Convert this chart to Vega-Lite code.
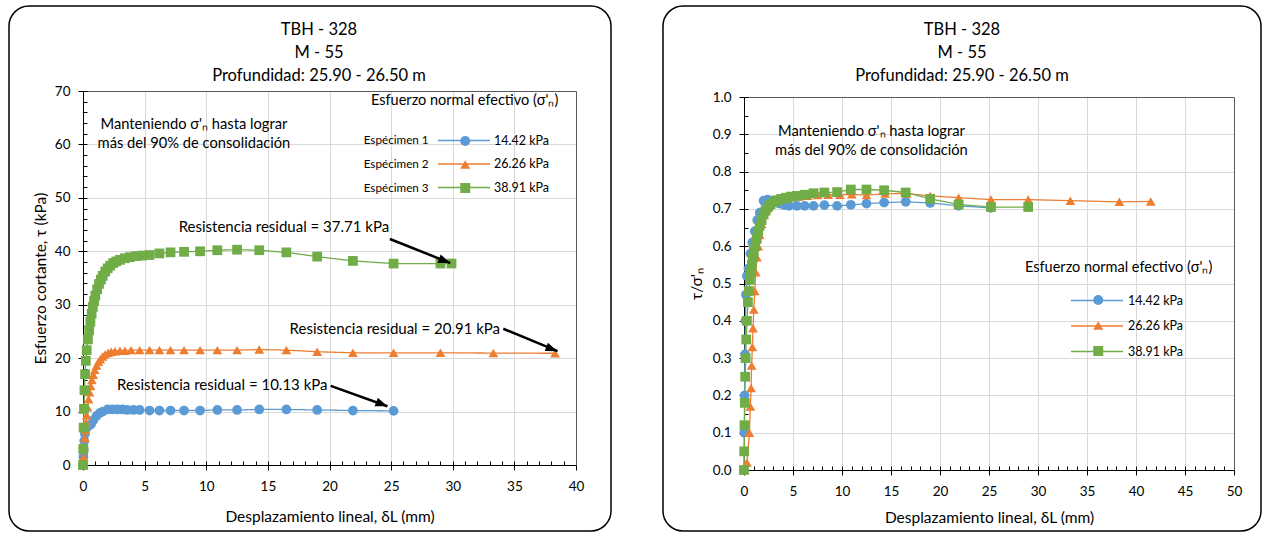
{
  "$schema": "https://vega.github.io/schema/vega-lite/v6.json",
  "padding": {"left": 8, "top": 5, "right": 0, "bottom": 0},
  "background": "white",
  "spacing": 50,
  "config": {
    "font": "Lato",
    "view": {"stroke": "black", "strokeWidth": 1.5, "cornerRadius": 20, "fill": "white"},
    "axis": {"labelFontSize": 13.5, "labelColor": "#000", "titleFontSize": 15.5, "titleFontWeight": "normal", "titleColor": "#000", "domainColor": "#000", "tickColor": "#000", "gridColor": "#d9d9d9", "labelFlush": false, "labelOverlap": false},
    "legend": {"labelColor": "#000", "titleColor": "#000", "titleFontWeight": "normal", "titleLimit": 400, "labelLimit": 300}
  },
  "resolve": {
    "scale": {"fill": "independent", "stroke": "independent", "shape": "independent", "strokeDash": "independent"},
    "legend": {"fill": "independent", "stroke": "independent", "shape": "independent", "strokeDash": "independent"}
  },
  "datasets": {
    "left": [
      {"esp": "Espécimen 1", "sigma": "14.42 kPa", "x": 0, "tau": 0},
      {"esp": "Espécimen 1", "sigma": "14.42 kPa", "x": 0.03, "tau": 1.5},
      {"esp": "Espécimen 1", "sigma": "14.42 kPa", "x": 0.06, "tau": 3.0},
      {"esp": "Espécimen 1", "sigma": "14.42 kPa", "x": 0.1, "tau": 4.5},
      {"esp": "Espécimen 1", "sigma": "14.42 kPa", "x": 0.15, "tau": 5.8},
      {"esp": "Espécimen 1", "sigma": "14.42 kPa", "x": 0.2, "tau": 6.6},
      {"esp": "Espécimen 1", "sigma": "14.42 kPa", "x": 0.3, "tau": 7.1},
      {"esp": "Espécimen 1", "sigma": "14.42 kPa", "x": 0.45, "tau": 7.3},
      {"esp": "Espécimen 1", "sigma": "14.42 kPa", "x": 0.65, "tau": 7.6},
      {"esp": "Espécimen 1", "sigma": "14.42 kPa", "x": 0.85, "tau": 8.4},
      {"esp": "Espécimen 1", "sigma": "14.42 kPa", "x": 1.1, "tau": 9.2},
      {"esp": "Espécimen 1", "sigma": "14.42 kPa", "x": 1.35, "tau": 9.7},
      {"esp": "Espécimen 1", "sigma": "14.42 kPa", "x": 1.6, "tau": 10.0},
      {"esp": "Espécimen 1", "sigma": "14.42 kPa", "x": 2.0, "tau": 10.4},
      {"esp": "Espécimen 1", "sigma": "14.42 kPa", "x": 2.4, "tau": 10.4},
      {"esp": "Espécimen 1", "sigma": "14.42 kPa", "x": 2.8, "tau": 10.4},
      {"esp": "Espécimen 1", "sigma": "14.42 kPa", "x": 3.2, "tau": 10.4},
      {"esp": "Espécimen 1", "sigma": "14.42 kPa", "x": 3.6, "tau": 10.3},
      {"esp": "Espécimen 1", "sigma": "14.42 kPa", "x": 4.1, "tau": 10.3},
      {"esp": "Espécimen 1", "sigma": "14.42 kPa", "x": 4.6, "tau": 10.3},
      {"esp": "Espécimen 1", "sigma": "14.42 kPa", "x": 5.4, "tau": 10.2},
      {"esp": "Espécimen 1", "sigma": "14.42 kPa", "x": 6.2, "tau": 10.2},
      {"esp": "Espécimen 1", "sigma": "14.42 kPa", "x": 7.1, "tau": 10.2},
      {"esp": "Espécimen 1", "sigma": "14.42 kPa", "x": 8.2, "tau": 10.2},
      {"esp": "Espécimen 1", "sigma": "14.42 kPa", "x": 9.5, "tau": 10.2},
      {"esp": "Espécimen 1", "sigma": "14.42 kPa", "x": 10.9, "tau": 10.3},
      {"esp": "Espécimen 1", "sigma": "14.42 kPa", "x": 12.5, "tau": 10.3},
      {"esp": "Espécimen 1", "sigma": "14.42 kPa", "x": 14.3, "tau": 10.4},
      {"esp": "Espécimen 1", "sigma": "14.42 kPa", "x": 16.5, "tau": 10.4},
      {"esp": "Espécimen 1", "sigma": "14.42 kPa", "x": 19.0, "tau": 10.3},
      {"esp": "Espécimen 1", "sigma": "14.42 kPa", "x": 21.9, "tau": 10.2},
      {"esp": "Espécimen 1", "sigma": "14.42 kPa", "x": 25.2, "tau": 10.13},
      {"esp": "Espécimen 2", "sigma": "26.26 kPa", "x": 0, "tau": 0},
      {"esp": "Espécimen 2", "sigma": "26.26 kPa", "x": 0.05, "tau": 1.5},
      {"esp": "Espécimen 2", "sigma": "26.26 kPa", "x": 0.1, "tau": 3.2},
      {"esp": "Espécimen 2", "sigma": "26.26 kPa", "x": 0.15, "tau": 5.0},
      {"esp": "Espécimen 2", "sigma": "26.26 kPa", "x": 0.2, "tau": 6.5},
      {"esp": "Espécimen 2", "sigma": "26.26 kPa", "x": 0.25, "tau": 8.0},
      {"esp": "Espécimen 2", "sigma": "26.26 kPa", "x": 0.3, "tau": 9.3},
      {"esp": "Espécimen 2", "sigma": "26.26 kPa", "x": 0.37, "tau": 10.8},
      {"esp": "Espécimen 2", "sigma": "26.26 kPa", "x": 0.45, "tau": 12.3},
      {"esp": "Espécimen 2", "sigma": "26.26 kPa", "x": 0.53, "tau": 13.6},
      {"esp": "Espécimen 2", "sigma": "26.26 kPa", "x": 0.62, "tau": 14.8},
      {"esp": "Espécimen 2", "sigma": "26.26 kPa", "x": 0.72, "tau": 15.9},
      {"esp": "Espécimen 2", "sigma": "26.26 kPa", "x": 0.83, "tau": 16.9},
      {"esp": "Espécimen 2", "sigma": "26.26 kPa", "x": 0.95, "tau": 17.8},
      {"esp": "Espécimen 2", "sigma": "26.26 kPa", "x": 1.1, "tau": 18.6},
      {"esp": "Espécimen 2", "sigma": "26.26 kPa", "x": 1.25, "tau": 19.3},
      {"esp": "Espécimen 2", "sigma": "26.26 kPa", "x": 1.4, "tau": 19.8},
      {"esp": "Espécimen 2", "sigma": "26.26 kPa", "x": 1.6, "tau": 20.3},
      {"esp": "Espécimen 2", "sigma": "26.26 kPa", "x": 1.8, "tau": 20.7},
      {"esp": "Espécimen 2", "sigma": "26.26 kPa", "x": 2.05, "tau": 21.0},
      {"esp": "Espécimen 2", "sigma": "26.26 kPa", "x": 2.3, "tau": 21.2},
      {"esp": "Espécimen 2", "sigma": "26.26 kPa", "x": 2.6, "tau": 21.3},
      {"esp": "Espécimen 2", "sigma": "26.26 kPa", "x": 3.0, "tau": 21.4},
      {"esp": "Espécimen 2", "sigma": "26.26 kPa", "x": 3.4, "tau": 21.4},
      {"esp": "Espécimen 2", "sigma": "26.26 kPa", "x": 3.9, "tau": 21.5},
      {"esp": "Espécimen 2", "sigma": "26.26 kPa", "x": 4.6, "tau": 21.5},
      {"esp": "Espécimen 2", "sigma": "26.26 kPa", "x": 5.4, "tau": 21.5},
      {"esp": "Espécimen 2", "sigma": "26.26 kPa", "x": 6.2, "tau": 21.5},
      {"esp": "Espécimen 2", "sigma": "26.26 kPa", "x": 7.1, "tau": 21.5},
      {"esp": "Espécimen 2", "sigma": "26.26 kPa", "x": 8.2, "tau": 21.5},
      {"esp": "Espécimen 2", "sigma": "26.26 kPa", "x": 9.5, "tau": 21.5},
      {"esp": "Espécimen 2", "sigma": "26.26 kPa", "x": 10.9, "tau": 21.5},
      {"esp": "Espécimen 2", "sigma": "26.26 kPa", "x": 12.5, "tau": 21.5},
      {"esp": "Espécimen 2", "sigma": "26.26 kPa", "x": 14.3, "tau": 21.6},
      {"esp": "Espécimen 2", "sigma": "26.26 kPa", "x": 16.5, "tau": 21.5},
      {"esp": "Espécimen 2", "sigma": "26.26 kPa", "x": 19.0, "tau": 21.2},
      {"esp": "Espécimen 2", "sigma": "26.26 kPa", "x": 21.9, "tau": 21.0},
      {"esp": "Espécimen 2", "sigma": "26.26 kPa", "x": 25.2, "tau": 21.0},
      {"esp": "Espécimen 2", "sigma": "26.26 kPa", "x": 29.0, "tau": 21.0},
      {"esp": "Espécimen 2", "sigma": "26.26 kPa", "x": 33.3, "tau": 20.95},
      {"esp": "Espécimen 2", "sigma": "26.26 kPa", "x": 38.3, "tau": 20.91},
      {"esp": "Espécimen 3", "sigma": "38.91 kPa", "x": 0, "tau": 0},
      {"esp": "Espécimen 3", "sigma": "38.91 kPa", "x": 0.02, "tau": 3},
      {"esp": "Espécimen 3", "sigma": "38.91 kPa", "x": 0.05, "tau": 7},
      {"esp": "Espécimen 3", "sigma": "38.91 kPa", "x": 0.08, "tau": 10.5},
      {"esp": "Espécimen 3", "sigma": "38.91 kPa", "x": 0.12, "tau": 14},
      {"esp": "Espécimen 3", "sigma": "38.91 kPa", "x": 0.17, "tau": 17},
      {"esp": "Espécimen 3", "sigma": "38.91 kPa", "x": 0.23, "tau": 19.5},
      {"esp": "Espécimen 3", "sigma": "38.91 kPa", "x": 0.3, "tau": 21.5},
      {"esp": "Espécimen 3", "sigma": "38.91 kPa", "x": 0.4, "tau": 23.5},
      {"esp": "Espécimen 3", "sigma": "38.91 kPa", "x": 0.5, "tau": 25.2},
      {"esp": "Espécimen 3", "sigma": "38.91 kPa", "x": 0.6, "tau": 26.8},
      {"esp": "Espécimen 3", "sigma": "38.91 kPa", "x": 0.7, "tau": 28.3},
      {"esp": "Espécimen 3", "sigma": "38.91 kPa", "x": 0.8, "tau": 29.6},
      {"esp": "Espécimen 3", "sigma": "38.91 kPa", "x": 0.9, "tau": 30.7},
      {"esp": "Espécimen 3", "sigma": "38.91 kPa", "x": 1.0, "tau": 31.7},
      {"esp": "Espécimen 3", "sigma": "38.91 kPa", "x": 1.15, "tau": 32.9},
      {"esp": "Espécimen 3", "sigma": "38.91 kPa", "x": 1.3, "tau": 33.9},
      {"esp": "Espécimen 3", "sigma": "38.91 kPa", "x": 1.45, "tau": 34.7},
      {"esp": "Espécimen 3", "sigma": "38.91 kPa", "x": 1.6, "tau": 35.4},
      {"esp": "Espécimen 3", "sigma": "38.91 kPa", "x": 1.8, "tau": 36.2},
      {"esp": "Espécimen 3", "sigma": "38.91 kPa", "x": 2.0, "tau": 36.8},
      {"esp": "Espécimen 3", "sigma": "38.91 kPa", "x": 2.2, "tau": 37.3},
      {"esp": "Espécimen 3", "sigma": "38.91 kPa", "x": 2.45, "tau": 37.8},
      {"esp": "Espécimen 3", "sigma": "38.91 kPa", "x": 2.7, "tau": 38.1},
      {"esp": "Espécimen 3", "sigma": "38.91 kPa", "x": 3.0, "tau": 38.4},
      {"esp": "Espécimen 3", "sigma": "38.91 kPa", "x": 3.4, "tau": 38.7},
      {"esp": "Espécimen 3", "sigma": "38.91 kPa", "x": 3.8, "tau": 38.9},
      {"esp": "Espécimen 3", "sigma": "38.91 kPa", "x": 4.3, "tau": 39.1},
      {"esp": "Espécimen 3", "sigma": "38.91 kPa", "x": 4.8, "tau": 39.2},
      {"esp": "Espécimen 3", "sigma": "38.91 kPa", "x": 5.4, "tau": 39.3},
      {"esp": "Espécimen 3", "sigma": "38.91 kPa", "x": 6.2, "tau": 39.6},
      {"esp": "Espécimen 3", "sigma": "38.91 kPa", "x": 7.1, "tau": 39.8},
      {"esp": "Espécimen 3", "sigma": "38.91 kPa", "x": 8.2, "tau": 39.9},
      {"esp": "Espécimen 3", "sigma": "38.91 kPa", "x": 9.5, "tau": 40.0},
      {"esp": "Espécimen 3", "sigma": "38.91 kPa", "x": 10.9, "tau": 40.2},
      {"esp": "Espécimen 3", "sigma": "38.91 kPa", "x": 12.5, "tau": 40.3},
      {"esp": "Espécimen 3", "sigma": "38.91 kPa", "x": 14.3, "tau": 40.2},
      {"esp": "Espécimen 3", "sigma": "38.91 kPa", "x": 16.5, "tau": 39.8},
      {"esp": "Espécimen 3", "sigma": "38.91 kPa", "x": 19.0, "tau": 39.0},
      {"esp": "Espécimen 3", "sigma": "38.91 kPa", "x": 21.9, "tau": 38.2},
      {"esp": "Espécimen 3", "sigma": "38.91 kPa", "x": 25.2, "tau": 37.7},
      {"esp": "Espécimen 3", "sigma": "38.91 kPa", "x": 29.0, "tau": 37.7},
      {"esp": "Espécimen 3", "sigma": "38.91 kPa", "x": 29.9, "tau": 37.71}
    ],
    "right": [
      {"sigma": "14.42 kPa", "x": 0, "r": 0},
      {"sigma": "14.42 kPa", "x": 0.03, "r": 0.1},
      {"sigma": "14.42 kPa", "x": 0.06, "r": 0.2},
      {"sigma": "14.42 kPa", "x": 0.1, "r": 0.31},
      {"sigma": "14.42 kPa", "x": 0.15, "r": 0.4},
      {"sigma": "14.42 kPa", "x": 0.2, "r": 0.47},
      {"sigma": "14.42 kPa", "x": 0.3, "r": 0.52},
      {"sigma": "14.42 kPa", "x": 0.45, "r": 0.54},
      {"sigma": "14.42 kPa", "x": 0.65, "r": 0.58},
      {"sigma": "14.42 kPa", "x": 0.85, "r": 0.61},
      {"sigma": "14.42 kPa", "x": 1.1, "r": 0.64},
      {"sigma": "14.42 kPa", "x": 1.35, "r": 0.67},
      {"sigma": "14.42 kPa", "x": 1.6, "r": 0.69},
      {"sigma": "14.42 kPa", "x": 2.0, "r": 0.722},
      {"sigma": "14.42 kPa", "x": 2.4, "r": 0.725},
      {"sigma": "14.42 kPa", "x": 2.8, "r": 0.722},
      {"sigma": "14.42 kPa", "x": 3.2, "r": 0.718},
      {"sigma": "14.42 kPa", "x": 3.6, "r": 0.714},
      {"sigma": "14.42 kPa", "x": 4.1, "r": 0.71},
      {"sigma": "14.42 kPa", "x": 4.6, "r": 0.708},
      {"sigma": "14.42 kPa", "x": 5.4, "r": 0.708},
      {"sigma": "14.42 kPa", "x": 6.2, "r": 0.708},
      {"sigma": "14.42 kPa", "x": 7.1, "r": 0.708},
      {"sigma": "14.42 kPa", "x": 8.2, "r": 0.71},
      {"sigma": "14.42 kPa", "x": 9.5, "r": 0.708},
      {"sigma": "14.42 kPa", "x": 10.9, "r": 0.711},
      {"sigma": "14.42 kPa", "x": 12.5, "r": 0.714},
      {"sigma": "14.42 kPa", "x": 14.3, "r": 0.717},
      {"sigma": "14.42 kPa", "x": 16.5, "r": 0.719},
      {"sigma": "14.42 kPa", "x": 19.0, "r": 0.716},
      {"sigma": "14.42 kPa", "x": 21.9, "r": 0.708},
      {"sigma": "14.42 kPa", "x": 25.2, "r": 0.703},
      {"sigma": "26.26 kPa", "x": 0, "r": 0},
      {"sigma": "26.26 kPa", "x": 0.3, "r": 0.02},
      {"sigma": "26.26 kPa", "x": 0.55, "r": 0.1},
      {"sigma": "26.26 kPa", "x": 0.65, "r": 0.17},
      {"sigma": "26.26 kPa", "x": 0.72, "r": 0.22},
      {"sigma": "26.26 kPa", "x": 0.78, "r": 0.28},
      {"sigma": "26.26 kPa", "x": 0.85, "r": 0.33},
      {"sigma": "26.26 kPa", "x": 0.92, "r": 0.38},
      {"sigma": "26.26 kPa", "x": 1.0, "r": 0.43},
      {"sigma": "26.26 kPa", "x": 1.1, "r": 0.48},
      {"sigma": "26.26 kPa", "x": 1.2, "r": 0.53},
      {"sigma": "26.26 kPa", "x": 1.32, "r": 0.57},
      {"sigma": "26.26 kPa", "x": 1.45, "r": 0.6},
      {"sigma": "26.26 kPa", "x": 1.6, "r": 0.63},
      {"sigma": "26.26 kPa", "x": 1.8, "r": 0.66},
      {"sigma": "26.26 kPa", "x": 2.0, "r": 0.685},
      {"sigma": "26.26 kPa", "x": 2.3, "r": 0.7},
      {"sigma": "26.26 kPa", "x": 2.6, "r": 0.71},
      {"sigma": "26.26 kPa", "x": 3.0, "r": 0.718},
      {"sigma": "26.26 kPa", "x": 3.5, "r": 0.724},
      {"sigma": "26.26 kPa", "x": 4.1, "r": 0.728},
      {"sigma": "26.26 kPa", "x": 4.8, "r": 0.731},
      {"sigma": "26.26 kPa", "x": 5.6, "r": 0.733},
      {"sigma": "26.26 kPa", "x": 6.5, "r": 0.735},
      {"sigma": "26.26 kPa", "x": 7.5, "r": 0.737},
      {"sigma": "26.26 kPa", "x": 8.6, "r": 0.738},
      {"sigma": "26.26 kPa", "x": 9.8, "r": 0.738},
      {"sigma": "26.26 kPa", "x": 11.0, "r": 0.739},
      {"sigma": "26.26 kPa", "x": 12.5, "r": 0.737},
      {"sigma": "26.26 kPa", "x": 14.4, "r": 0.741},
      {"sigma": "26.26 kPa", "x": 16.6, "r": 0.741},
      {"sigma": "26.26 kPa", "x": 19.0, "r": 0.735},
      {"sigma": "26.26 kPa", "x": 21.9, "r": 0.73},
      {"sigma": "26.26 kPa", "x": 25.2, "r": 0.725},
      {"sigma": "26.26 kPa", "x": 29.0, "r": 0.725},
      {"sigma": "26.26 kPa", "x": 33.3, "r": 0.722},
      {"sigma": "26.26 kPa", "x": 38.3, "r": 0.719},
      {"sigma": "26.26 kPa", "x": 41.5, "r": 0.72},
      {"sigma": "38.91 kPa", "x": 0, "r": 0},
      {"sigma": "38.91 kPa", "x": 0.02, "r": 0.05},
      {"sigma": "38.91 kPa", "x": 0.05, "r": 0.12},
      {"sigma": "38.91 kPa", "x": 0.08, "r": 0.18},
      {"sigma": "38.91 kPa", "x": 0.12, "r": 0.25},
      {"sigma": "38.91 kPa", "x": 0.17, "r": 0.3},
      {"sigma": "38.91 kPa", "x": 0.23, "r": 0.35},
      {"sigma": "38.91 kPa", "x": 0.3, "r": 0.4},
      {"sigma": "38.91 kPa", "x": 0.4, "r": 0.45},
      {"sigma": "38.91 kPa", "x": 0.5, "r": 0.48},
      {"sigma": "38.91 kPa", "x": 0.6, "r": 0.51},
      {"sigma": "38.91 kPa", "x": 0.7, "r": 0.53},
      {"sigma": "38.91 kPa", "x": 0.8, "r": 0.55},
      {"sigma": "38.91 kPa", "x": 0.9, "r": 0.57},
      {"sigma": "38.91 kPa", "x": 1.0, "r": 0.585},
      {"sigma": "38.91 kPa", "x": 1.15, "r": 0.6},
      {"sigma": "38.91 kPa", "x": 1.3, "r": 0.62},
      {"sigma": "38.91 kPa", "x": 1.45, "r": 0.64},
      {"sigma": "38.91 kPa", "x": 1.6, "r": 0.655},
      {"sigma": "38.91 kPa", "x": 1.8, "r": 0.67},
      {"sigma": "38.91 kPa", "x": 2.0, "r": 0.685},
      {"sigma": "38.91 kPa", "x": 2.2, "r": 0.695},
      {"sigma": "38.91 kPa", "x": 2.45, "r": 0.705},
      {"sigma": "38.91 kPa", "x": 2.7, "r": 0.712},
      {"sigma": "38.91 kPa", "x": 3.0, "r": 0.718},
      {"sigma": "38.91 kPa", "x": 3.4, "r": 0.723},
      {"sigma": "38.91 kPa", "x": 3.8, "r": 0.727},
      {"sigma": "38.91 kPa", "x": 4.3, "r": 0.73},
      {"sigma": "38.91 kPa", "x": 4.8, "r": 0.733},
      {"sigma": "38.91 kPa", "x": 5.4, "r": 0.735},
      {"sigma": "38.91 kPa", "x": 6.2, "r": 0.738},
      {"sigma": "38.91 kPa", "x": 7.1, "r": 0.742},
      {"sigma": "38.91 kPa", "x": 8.2, "r": 0.744},
      {"sigma": "38.91 kPa", "x": 9.5, "r": 0.745},
      {"sigma": "38.91 kPa", "x": 10.9, "r": 0.752},
      {"sigma": "38.91 kPa", "x": 12.5, "r": 0.752},
      {"sigma": "38.91 kPa", "x": 14.3, "r": 0.75},
      {"sigma": "38.91 kPa", "x": 16.5, "r": 0.744},
      {"sigma": "38.91 kPa", "x": 19.0, "r": 0.727},
      {"sigma": "38.91 kPa", "x": 21.9, "r": 0.712},
      {"sigma": "38.91 kPa", "x": 25.2, "r": 0.705},
      {"sigma": "38.91 kPa", "x": 29.0, "r": 0.705}
    ],
    "leftNote": [{"x": 9.0, "y": 63.7, "text": "Manteniendo σ'ₙ hasta lograr\nmás del 90% de consolidación"}],
    "leftResid": [
      {"x": 16.3, "y": 44.5, "text": "Resistencia residual = 37.71 kPa"},
      {"x": 25.3, "y": 25.5, "text": "Resistencia residual = 20.91 kPa"},
      {"x": 11.3, "y": 15.0, "text": "Resistencia residual = 10.13 kPa"}
    ],
    "leftArrows": [
      {"x": 24.9, "y": 42.3, "x2": 29.8, "y2": 37.8},
      {"x": 34.1, "y": 25.5, "x2": 38.5, "y2": 21.3},
      {"x": 20.1, "y": 14.8, "x2": 24.7, "y2": 11.0}
    ],
    "rightNote": [{"x": 13.0, "y": 0.906, "text": "Manteniendo σ'ₙ hasta lograr\nmás del 90% de consolidación"}]
  },
  "hconcat": [
    {
      "width": 602,
      "height": 525,
      "title": {"text": ["TBH - 328", "M - 55", "Profundidad: 25.90 -  26.50 m"], "frame": "group", "anchor": "middle", "offset": -78, "dx": 9, "fontSize": 16.5, "fontWeight": "normal", "lineHeight": 23, "color": "#000"},
      "resolve": {"axis": {"x": "independent", "y": "independent"}},
      "layer": [
        {
          "data": {"name": "left"},
          "mark": {"type": "line", "strokeWidth": 1.3},
          "encoding": {
            "x": {"field": "x", "type": "quantitative", "scale": {"domain": [0, 40], "range": [74, 567], "nice": false, "zero": false},
              "axis": {"orient": "bottom", "offset": -66, "values": [0,1,2,3,4,5,6,7,8,9,10,11,12,13,14,15,16,17,18,19,20,21,22,23,24,25,26,27,28,29,30,31,32,33,34,35,36,37,38,39,40], "domain": false, "labels": false, "grid": false, "tickSize": -4, "title": null}},
            "y": {"field": "tau", "type": "quantitative", "scale": {"domain": [0, 70], "range": [459, 85], "nice": false, "zero": false},
              "axis": {"orient": "left", "offset": -74, "values": [0,2,4,6,8,10,12,14,16,18,20,22,24,26,28,30,32,34,36,38,40,42,44,46,48,50,52,54,56,58,60,62,64,66,68,70], "domain": false, "labels": false, "grid": false, "tickSize": -4, "title": null}},
            "stroke": {"field": "sigma", "type": "nominal", "scale": {"range": ["#5b9bd5", "#ed7d31", "#70ad47"]},
              "legend": {"orient": "none", "legendX": 362, "legendY": 88, "title": "Esfuerzo normal efectivo (σ'ₙ)", "titleFontSize": 14.5, "titlePadding": 24, "labelFontSize": 12.5, "symbolType": "stroke", "symbolSize": 2704, "symbolStrokeWidth": 1.3, "symbolOffset": 66, "labelOffset": 3, "rowPadding": 7.5, "clipHeight": 16}},
            "strokeDash": {"field": "esp", "type": "nominal", "scale": {"domain": ["Espécimen 1", "Espécimen 2", "Espécimen 3"], "range": [[1, 0], [1, 0], [1, 0]]},
              "legend": {"orient": "none", "legendX": 343, "legendY": 128, "title": null, "symbolOpacity": 0, "symbolSize": 0, "labelOffset": 0, "labelFontSize": 11.7, "rowPadding": 11.3}}
          }
        },
        {
          "data": {"name": "left"},
          "mark": {"type": "point", "filled": true, "size": 95, "opacity": 1},
          "encoding": {
            "x": {"field": "x", "type": "quantitative", "scale": {"domain": [0, 40], "range": [74, 567], "nice": false, "zero": false},
              "axis": {"orient": "bottom", "offset": -66, "values": [0,5,10,15,20,25,30,35,40], "grid": false, "tickSize": 5, "labelPadding": 9, "title": "Desplazamiento lineal, δL (mm)", "titlePadding": 17}},
            "y": {"field": "tau", "type": "quantitative", "scale": {"domain": [0, 70], "range": [459, 85], "nice": false, "zero": false},
              "axis": {"orient": "left", "offset": -74, "values": [0,10,20,30,40,50,60,70], "grid": true, "gridOpacity": {"condition": {"test": "datum.value === 0 || datum.value === 70", "value": 0}, "value": 1}, "tickSize": 5, "labelPadding": 8, "title": "Esfuerzo cortante, τ (kPa)", "titlePadding": 6}},
            "fill": {"field": "sigma", "type": "nominal", "scale": {"domain": ["14.42 kPa", "26.26 kPa", "38.91 kPa"], "range": ["#5b9bd5", "#ed7d31", "#70ad47"]},
              "legend": {"orient": "none", "legendX": 362, "legendY": 127, "title": null, "labelFontSize": 12.5, "labelExpr": "''", "symbolSize": 100, "symbolOffset": 88, "rowPadding": 7.5, "clipHeight": 16}},
            "shape": {"field": "sigma", "type": "nominal", "scale": {"domain": ["14.42 kPa", "26.26 kPa", "38.91 kPa"], "range": ["circle", "triangle-up", "square"]},
              "legend": {"orient": "none", "legendX": 362, "legendY": 127, "title": null, "labelFontSize": 12.5, "labelExpr": "''", "symbolSize": 100, "symbolOffset": 88, "rowPadding": 7.5, "clipHeight": 16}}
          }
        },
        {
          "data": {"name": "leftNote"},
          "mark": {"type": "text", "align": "center", "baseline": "middle", "fontSize": 14.7, "lineBreak": "\n", "lineHeight": 19, "color": "#000"},
          "encoding": {
            "x": {"field": "x", "type": "quantitative", "scale": {"domain": [0, 40], "range": [74, 567], "nice": false, "zero": false},
              "axis": {"orient": "top", "offset": -85, "values": [5,10,15,20,25,30,35], "grid": true, "domain": true, "domainColor": "#595959", "ticks": false, "labels": false, "title": null}},
            "y": {"field": "y", "type": "quantitative", "scale": {"domain": [0, 70], "range": [459, 85], "nice": false, "zero": false},
              "axis": {"orient": "right", "offset": -35, "domain": true, "domainColor": "#595959", "ticks": false, "labels": false, "grid": false, "title": null}},
            "text": {"field": "text", "type": "nominal"}
          }
        },
        {
          "data": {"name": "leftResid"},
          "mark": {"type": "text", "align": "center", "baseline": "middle", "fontSize": 15, "color": "#000"},
          "encoding": {
            "x": {"field": "x", "type": "quantitative", "axis": null},
            "y": {"field": "y", "type": "quantitative", "axis": null},
            "text": {"field": "text", "type": "nominal"}
          }
        },
        {
          "data": {"name": "leftArrows"},
          "mark": {"type": "rule", "strokeWidth": 2.5, "color": "#000"},
          "encoding": {
            "x": {"field": "x", "type": "quantitative", "axis": null},
            "y": {"field": "y", "type": "quantitative", "axis": null},
            "x2": {"field": "x2"},
            "y2": {"field": "y2"}
          }
        },
        {
          "data": {"name": "leftArrows"},
          "mark": {"type": "point", "shape": "M0,0L0.9,2.4L-0.9,2.4Z", "angle": 111, "size": 100, "filled": true, "opacity": 1, "color": "#000"},
          "encoding": {
            "x": {"field": "x2", "type": "quantitative", "axis": null},
            "y": {"field": "y2", "type": "quantitative", "axis": null}
          }
        }
      ]
    },
    {
      "width": 598,
      "height": 525,
      "title": {"text": ["TBH - 328", "M - 55", "Profundidad: 25.90 -  26.50 m"], "frame": "group", "anchor": "middle", "offset": -78, "dx": 0, "fontSize": 16.5, "fontWeight": "normal", "lineHeight": 23, "color": "#000"},
      "resolve": {"axis": {"x": "independent", "y": "independent"}},
      "layer": [
        {
          "data": {"name": "right"},
          "mark": {"type": "line", "strokeWidth": 1.3},
          "encoding": {
            "x": {"field": "x", "type": "quantitative", "scale": {"domain": [0, 50], "range": [81, 571], "nice": false, "zero": false},
              "axis": {"orient": "bottom", "offset": -61, "values": [0,1,2,3,4,5,6,7,8,9,10,11,12,13,14,15,16,17,18,19,20,21,22,23,24,25,26,27,28,29,30,31,32,33,34,35,36,37,38,39,40,41,42,43,44,45,46,47,48,49,50], "domain": false, "labels": false, "grid": false, "tickSize": -4, "title": null}},
            "y": {"field": "r", "type": "quantitative", "scale": {"domain": [0, 1], "range": [464, 91], "nice": false, "zero": false},
              "axis": {"orient": "left", "offset": -81, "values": [0,0.05,0.1,0.15,0.2,0.25,0.3,0.35,0.4,0.45,0.5,0.55,0.6,0.65,0.7,0.75,0.8,0.85,0.9,0.95,1], "domain": false, "labels": false, "grid": false, "tickSize": -4, "title": null}},
            "stroke": {"field": "sigma", "type": "nominal", "scale": {"range": ["#5b9bd5", "#ed7d31", "#70ad47"]},
              "legend": {"orient": "none", "legendX": 362, "legendY": 255, "title": "Esfuerzo normal efectivo (σ'ₙ)", "titleFontSize": 14.5, "titlePadding": 17, "labelFontSize": 12.5, "symbolType": "stroke", "symbolSize": 2704, "symbolStrokeWidth": 1.3, "symbolOffset": 45, "labelOffset": 4, "rowPadding": 9.5, "clipHeight": 16}}
          }
        },
        {
          "data": {"name": "right"},
          "mark": {"type": "point", "filled": true, "size": 95, "opacity": 1},
          "encoding": {
            "x": {"field": "x", "type": "quantitative", "scale": {"domain": [0, 50], "range": [81, 571], "nice": false, "zero": false},
              "axis": {"orient": "bottom", "offset": -61, "values": [0,5,10,15,20,25,30,35,40,45,50], "grid": false, "tickSize": 5, "labelPadding": 9, "title": "Desplazamiento lineal, δL (mm)", "titlePadding": 13}},
            "y": {"field": "r", "type": "quantitative", "scale": {"domain": [0, 1], "range": [464, 91], "nice": false, "zero": false},
              "axis": {"orient": "left", "offset": -81, "values": [0,0.1,0.2,0.3,0.4,0.5,0.6,0.7,0.8,0.9,1], "format": ".1f", "grid": true, "gridOpacity": {"condition": {"test": "datum.value === 0 || datum.value === 1", "value": 0}, "value": 1}, "tickSize": 5, "labelPadding": 8, "title": "τ/σ'ₙ", "titlePadding": 8}},
            "fill": {"field": "sigma", "type": "nominal", "scale": {"domain": ["14.42 kPa", "26.26 kPa", "38.91 kPa"], "range": ["#5b9bd5", "#ed7d31", "#70ad47"]},
              "legend": {"orient": "none", "legendX": 362, "legendY": 286, "title": null, "labelFontSize": 12.5, "labelExpr": "''", "symbolSize": 100, "symbolOffset": 67, "rowPadding": 9.5, "clipHeight": 16}},
            "shape": {"field": "sigma", "type": "nominal", "scale": {"domain": ["14.42 kPa", "26.26 kPa", "38.91 kPa"], "range": ["circle", "triangle-up", "square"]},
              "legend": {"orient": "none", "legendX": 362, "legendY": 286, "title": null, "labelFontSize": 12.5, "labelExpr": "''", "symbolSize": 100, "symbolOffset": 67, "rowPadding": 9.5, "clipHeight": 16}}
          }
        },
        {
          "data": {"name": "rightNote"},
          "mark": {"type": "text", "align": "center", "baseline": "middle", "fontSize": 14.7, "lineBreak": "\n", "lineHeight": 19, "color": "#000"},
          "encoding": {
            "x": {"field": "x", "type": "quantitative", "scale": {"domain": [0, 50], "range": [81, 571], "nice": false, "zero": false},
              "axis": {"orient": "top", "offset": -91, "values": [5,10,15,20,25,30,35,40,45], "grid": true, "domain": true, "domainColor": "#595959", "ticks": false, "labels": false, "title": null}},
            "y": {"field": "y", "type": "quantitative", "scale": {"domain": [0, 1], "range": [464, 91], "nice": false, "zero": false},
              "axis": {"orient": "right", "offset": -27, "domain": true, "domainColor": "#595959", "ticks": false, "labels": false, "grid": false, "title": null}},
            "text": {"field": "text", "type": "nominal"}
          }
        }
      ]
    }
  ]
}
